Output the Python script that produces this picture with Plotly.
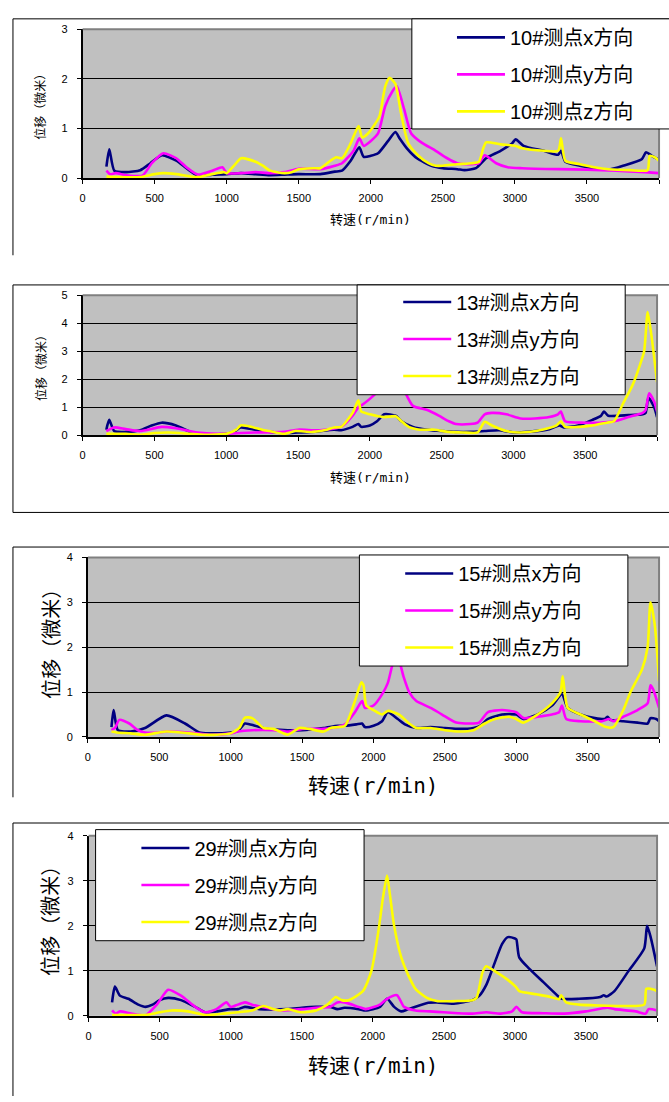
import plotly.graph_objects as go

W, H = 669, 1102

# ---------------- data: 10# ----------------
p10_x_rpm = [165,185,220,300,400,470,550,650,720,800,900,1000,1100,1200,1300,1400,1500,1650,1750,1800,1860,1920,1950,2000,2050,2120,2170,2200,2250,2320,2420,2500,2600,2650,2730,2800,2900,2980,3005,3060,3200,3300,3320,3350,3450,3600,3650,3750,3880,3910,3950,4000]
p10_x_val = [0.23,0.58,0.15,0.12,0.16,0.3,0.46,0.35,0.2,0.05,0.07,0.08,0.1,0.08,0.06,0.07,0.08,0.08,0.13,0.15,0.35,0.62,0.43,0.45,0.5,0.75,0.93,0.8,0.6,0.4,0.25,0.2,0.18,0.16,0.2,0.4,0.55,0.7,0.78,0.65,0.55,0.47,0.55,0.33,0.25,0.18,0.17,0.25,0.38,0.52,0.45,0.37]
p10_y_rpm = [165,190,230,300,415,480,560,650,720,800,900,970,1000,1100,1200,1300,1400,1500,1650,1750,1800,1880,1920,1950,2000,2050,2100,2150,2180,2230,2280,2350,2450,2530,2600,2700,2750,2790,2870,2950,3050,3300,3500,3700,3900,4000]
p10_y_val = [0.15,0.08,0.1,0.06,0.05,0.3,0.5,0.4,0.22,0.07,0.15,0.22,0.1,0.1,0.12,0.1,0.12,0.19,0.18,0.25,0.3,0.55,0.8,0.65,0.75,0.9,1.45,1.75,1.85,1.4,0.9,0.72,0.55,0.4,0.3,0.28,0.3,0.46,0.3,0.22,0.2,0.18,0.17,0.15,0.12,0.1]
p10_z_rpm = [165,250,400,500,560,650,800,900,980,1000,1050,1100,1200,1250,1300,1400,1450,1500,1600,1650,1720,1760,1800,1860,1915,1940,1980,2020,2060,2100,2130,2170,2210,2260,2330,2400,2450,2500,2600,2700,2750,2780,2800,2900,3000,3050,3200,3300,3320,3350,3450,3550,3650,3800,3920,3935,3970,4000]
p10_z_val = [0.03,0.02,0.02,0.08,0.1,0.08,0.02,0.08,0.12,0.1,0.25,0.4,0.33,0.25,0.15,0.1,0.12,0.18,0.2,0.2,0.35,0.42,0.4,0.7,1.05,0.82,0.9,1.05,1.25,1.85,2.02,1.9,1.3,0.7,0.45,0.3,0.25,0.25,0.28,0.3,0.33,0.6,0.72,0.68,0.65,0.6,0.55,0.55,0.8,0.35,0.28,0.22,0.18,0.16,0.16,0.45,0.42,0.35]

# ---------------- data: 13# ----------------
p13_x_rpm = [165,185,220,300,400,480,550,650,750,800,1000,1060,1100,1200,1300,1400,1500,1600,1750,1800,1880,1920,1940,2000,2050,2100,2180,2220,2300,2400,2500,2600,2700,2800,2900,3000,3100,3250,3320,3350,3450,3550,3610,3630,3660,3800,3900,3920,3940,3980,4000]
p13_x_val = [0.2,0.55,0.15,0.12,0.18,0.35,0.45,0.35,0.12,0.05,0.05,0.15,0.28,0.2,0.12,0.08,0.1,0.12,0.2,0.18,0.3,0.4,0.3,0.35,0.5,0.75,0.7,0.5,0.3,0.2,0.15,0.12,0.12,0.15,0.18,0.1,0.12,0.22,0.35,0.28,0.35,0.55,0.7,0.85,0.7,0.72,0.75,0.8,1.35,1.0,0.65]
p13_y_rpm = [165,220,300,400,550,650,800,1000,1100,1200,1400,1500,1650,1800,1880,1920,1950,2000,2080,2170,2240,2300,2400,2480,2550,2600,2700,2750,2800,2850,2950,3050,3150,3250,3310,3330,3360,3500,3600,3700,3800,3900,3920,3945,3980,4000]
p13_y_val = [0.15,0.28,0.22,0.15,0.3,0.25,0.1,0.05,0.08,0.1,0.12,0.2,0.18,0.3,0.7,1.0,1.1,1.3,1.7,2.4,1.6,1.05,0.9,0.7,0.5,0.4,0.4,0.45,0.75,0.8,0.75,0.6,0.6,0.65,0.75,0.85,0.5,0.45,0.45,0.5,0.65,0.8,0.9,1.5,1.2,0.85]
p13_z_rpm = [165,300,400,500,600,750,850,1000,1070,1100,1150,1250,1300,1400,1480,1600,1700,1750,1800,1880,1920,1940,2000,2100,2180,2220,2270,2350,2450,2550,2650,2750,2800,2850,2950,3050,3200,3300,3330,3360,3450,3550,3650,3700,3760,3830,3880,3910,3935,3965,4000]
p13_z_val = [0.05,0.05,0.02,0.08,0.1,0.05,0.02,0.05,0.2,0.35,0.33,0.2,0.15,0.05,0.15,0.12,0.2,0.28,0.3,0.8,1.25,0.85,0.75,0.65,0.68,0.5,0.3,0.2,0.2,0.12,0.1,0.1,0.48,0.35,0.15,0.1,0.2,0.35,0.5,0.3,0.3,0.35,0.45,0.5,1.1,1.8,2.5,3.0,4.4,3.4,1.9]

# ---------------- data: 15# ----------------
p15_x_rpm = [165,180,210,300,400,550,680,780,850,1000,1050,1100,1170,1250,1400,1500,1650,1750,1800,1880,1920,1940,2000,2060,2100,2170,2220,2300,2400,2500,2600,2700,2750,2800,2900,3000,3050,3150,3250,3320,3360,3450,3550,3620,3640,3660,3750,3850,3920,3940,3980,4000]
p15_x_val = [0.22,0.6,0.15,0.12,0.2,0.48,0.3,0.1,0.08,0.1,0.13,0.3,0.25,0.18,0.15,0.15,0.2,0.25,0.25,0.28,0.3,0.22,0.25,0.35,0.55,0.4,0.28,0.2,0.22,0.2,0.18,0.2,0.25,0.4,0.5,0.5,0.4,0.5,0.7,0.95,0.65,0.5,0.42,0.4,0.45,0.38,0.35,0.32,0.3,0.42,0.4,0.35]
p15_y_rpm = [165,190,220,290,350,400,500,550,700,850,1000,1050,1150,1300,1400,1500,1650,1750,1800,1870,1920,1940,2000,2060,2100,2160,2210,2250,2300,2400,2480,2580,2700,2740,2800,2900,3000,3050,3150,3250,3300,3320,3350,3450,3600,3650,3680,3750,3850,3920,3940,3960,4000]
p15_y_val = [0.15,0.2,0.38,0.3,0.15,0.1,0.1,0.12,0.1,0.05,0.08,0.12,0.15,0.15,0.12,0.18,0.18,0.22,0.28,0.55,0.8,0.65,0.7,0.95,1.2,1.9,1.35,1.0,0.8,0.65,0.5,0.32,0.3,0.32,0.55,0.6,0.55,0.42,0.45,0.5,0.55,0.7,0.4,0.35,0.35,0.4,0.35,0.45,0.6,0.75,1.15,1.05,0.65]
p15_z_rpm = [165,200,300,400,500,550,650,800,900,1000,1060,1100,1150,1230,1300,1400,1480,1550,1650,1700,1800,1870,1915,1930,1950,2000,2060,2100,2180,2250,2300,2400,2500,2600,2700,2780,2850,2950,3000,3050,3150,3250,3310,3325,3360,3450,3550,3630,3680,3750,3800,3880,3920,3940,3970,4000]
p15_z_val = [0.12,0.1,0.08,0.05,0.1,0.12,0.1,0.05,0.05,0.08,0.2,0.43,0.42,0.2,0.18,0.05,0.2,0.18,0.12,0.2,0.25,0.8,1.22,1.15,0.7,0.6,0.5,0.58,0.5,0.3,0.2,0.2,0.15,0.12,0.15,0.3,0.4,0.45,0.4,0.32,0.5,0.75,1.0,1.35,0.65,0.5,0.35,0.22,0.22,0.6,1.0,1.5,2.0,3.0,2.5,1.25]

# ---------------- data: 29# ----------------
p29_x_rpm = [165,185,220,280,350,400,450,500,560,650,750,820,900,1000,1050,1100,1200,1400,1500,1600,1700,1750,1800,1900,1950,2050,2100,2150,2200,2250,2390,2450,2570,2700,2750,2800,2860,2910,2950,3000,3010,3030,3100,3200,3300,3330,3450,3600,3625,3645,3700,3800,3910,3930,3955,4000]
p29_x_val = [0.3,0.65,0.45,0.38,0.25,0.2,0.25,0.35,0.4,0.35,0.2,0.08,0.1,0.15,0.15,0.2,0.15,0.15,0.18,0.2,0.2,0.15,0.18,0.15,0.12,0.2,0.38,0.2,0.1,0.15,0.29,0.3,0.27,0.35,0.45,0.7,1.2,1.6,1.75,1.72,1.7,1.3,1.05,0.75,0.45,0.38,0.38,0.42,0.46,0.43,0.55,1.0,1.5,2.0,1.75,1.1]
p29_y_rpm = [165,190,220,300,400,480,560,650,750,820,900,970,1000,1050,1100,1150,1250,1350,1500,1600,1700,1750,1800,1900,1950,2050,2100,2170,2220,2300,2400,2500,2600,2700,2800,2900,2980,3010,3050,3200,3350,3500,3650,3700,3850,3920,3940,4000]
p29_y_val = [0.12,0.05,0.1,0.05,0.01,0.25,0.58,0.45,0.2,0.08,0.15,0.3,0.2,0.25,0.3,0.25,0.18,0.12,0.15,0.18,0.2,0.3,0.3,0.2,0.15,0.25,0.38,0.46,0.2,0.12,0.1,0.08,0.06,0.05,0.08,0.05,0.1,0.2,0.08,0.06,0.05,0.1,0.18,0.15,0.1,0.05,0.15,0.12]
p29_z_rpm = [165,300,400,500,580,700,820,950,1050,1150,1230,1300,1350,1400,1500,1600,1680,1740,1780,1830,1930,1990,2040,2070,2100,2120,2150,2200,2250,2300,2380,2450,2600,2700,2730,2770,2795,2880,2950,3005,3030,3150,3250,3310,3325,3360,3450,3600,3750,3910,3925,3980,4000]
p29_z_val = [0.02,0.02,0.02,0.08,0.12,0.1,0.02,0.05,0.08,0.12,0.22,0.15,0.12,0.15,0.08,0.12,0.25,0.42,0.35,0.35,0.55,1.0,1.9,2.6,3.12,2.7,2.0,1.3,0.9,0.6,0.4,0.33,0.33,0.35,0.4,0.95,1.1,0.95,0.8,0.65,0.55,0.48,0.42,0.37,0.46,0.3,0.25,0.23,0.22,0.25,0.6,0.58,0.55]

x_ticks = [0, 500, 1000, 1500, 2000, 2500, 3000, 3500, 4000]

# ---------------- layout geometry (pixels) ----------------
ITEMW = 48
panels = [
    dict(tag="10", data=[(p10_x_rpm, p10_x_val), (p10_y_rpm, p10_y_val), (p10_z_rpm, p10_z_val)],
         xd=(80, 659), yd=(23.5, 174), ymax=3, frame=(10, 13, None, 252),
         box=(410.7, 13, 675, 124.3), leg=(509, 12), ysz=12, xsz=13, ytitle=(37, 99), xtitle=(369, 215)),
    dict(tag="13", data=[(p13_x_rpm, p13_x_val), (p13_y_rpm, p13_y_val), (p13_z_rpm, p13_z_val)],
         xd=(80, 657), yd=(292.5, 434), ymax=5, frame=(10, 282, 512, 512),
         box=(355.7, 282, 625, 393), leg=(455, 279.5), ysz=12, xsz=13, ytitle=(37, 363), xtitle=(369, 476)),
    dict(tag="15", data=[(p15_x_rpm, p15_x_val), (p15_y_rpm, p15_y_val), (p15_z_rpm, p15_z_val)],
         xd=(85.3, 659), yd=(557.5, 739), ymax=4, frame=(10, 547, None, 800),
         box=(358, 555, 627.7, 667.3), leg=(457, 554), ysz=20, xsz=21, ytitle=(47, 640), xtitle=(372, 787)),
    dict(tag="29", data=[(p29_x_rpm, p29_x_val), (p29_y_rpm, p29_y_val), (p29_z_rpm, p29_z_val)],
         xd=(86, 657), yd=(839, 1021), ymax=4, frame=(10, 826, None, 1105),
         box=(93, 832.7, 362.7, 945), leg=(192, 831.5), ysz=20, xsz=21, ytitle=(47, 920), xtitle=(372, 1070)),
]

colors = ["#000080", "#FF00FF", "#FFFF00"]
dirs = ["x", "y", "z"]
LAT = "Liberation Sans, Arial, Noto Sans CJK SC, sans-serif"
CJK = "Noto Sans CJK SC, sans-serif"

def fx(p):
    return p / W

def fy(p):
    return 1 - p / H

fig = go.Figure()
shapes = []
annotations = []
layout = dict(width=W, height=H, margin=dict(l=0, r=0, t=0, b=0),
              paper_bgcolor="white", plot_bgcolor="#C0C0C0", showlegend=True)

for i, p in enumerate(panels, start=1):
    sfx = "" if i == 1 else str(i)
    legname = "legend" + sfx
    for j, (xs, ys) in enumerate(p["data"]):
        fig.add_trace(go.Scatter(
            x=xs, y=ys, mode="lines",
            line=dict(color=colors[j], width=2.6, shape="spline", smoothing=0.6),
            name=f"{p['tag']}#测点{dirs[j]}方向",
            legendgroup=f"g{i}{j}", legend=legname,
            xaxis="x" + sfx, yaxis="y" + sfx, hoverinfo="skip",
        ))
    x0, x1 = p["xd"]
    ytop, ybot = p["yd"]
    layout["xaxis" + sfx] = dict(
        domain=[fx(x0), fx(x1)], range=[0, 4000], anchor="y" + sfx,
        tickmode="array", tickvals=x_ticks, ticktext=[str(v) for v in x_ticks],
        ticks="outside", ticklen=4, tickcolor="black", tickwidth=1,
        showline=True, linecolor="black", linewidth=1.5,
        showgrid=False, zeroline=False,
        tickfont=dict(family=LAT, size=11, color="black"), ticklabelstandoff=5,
    )
    layout["yaxis" + sfx] = dict(
        domain=[fy(ybot), fy(ytop)], range=[0, p["ymax"]], anchor="x" + sfx,
        tickmode="linear", tick0=0, dtick=1,
        ticks="outside", ticklen=4, tickcolor="black", tickwidth=1,
        showline=True, linecolor="black", linewidth=1.5,
        showgrid=True, gridcolor="black", gridwidth=1, zeroline=False,
        tickfont=dict(family=LAT, size=11, color="black"), ticklabelstandoff=7,
    )
    # gray top/right plot border
    shapes.append(dict(type="path", xref="paper", yref="paper",
                       path=f"M {fx(x0)},{fy(ytop)} L {fx(x1)},{fy(ytop)} L {fx(x1)},{fy(ybot)}",
                       line=dict(color="#808080", width=2), layer="above"))
    # outer chart frame
    fxl, fyt, fyb, fleft = p["frame"]
    shapes.append(dict(type="line", xref="paper", yref="paper",
                       x0=fx(fxl), x1=fx(W), y0=fy(fyt), y1=fy(fyt),
                       line=dict(color="black", width=1)))
    shapes.append(dict(type="line", xref="paper", yref="paper",
                       x0=fx(fxl), x1=fx(fxl), y0=fy(fyt), y1=fy(min(fleft, H)),
                       line=dict(color="black", width=1)))
    if fyb is not None:
        shapes.append(dict(type="line", xref="paper", yref="paper",
                           x0=fx(fxl), x1=fx(W), y0=fy(fyb), y1=fy(fyb),
                           line=dict(color="black", width=1)))
    # legend box
    bx0, by0, bx1, by1 = p["box"]
    shapes.append(dict(type="rect", xref="paper", yref="paper",
                       x0=fx(bx0), x1=fx(min(bx1, W + 1)), y0=fy(by1), y1=fy(by0),
                       fillcolor="white", line=dict(color="black", width=1), layer="above"))
    tstart, ly = p["leg"]
    layout[legname] = dict(
        x=fx(tstart - ITEMW - 10), y=fy(ly), xanchor="left", yanchor="top",
        bgcolor="rgba(0,0,0,0)", borderwidth=0, tracegroupgap=8, itemwidth=ITEMW,
        font=dict(family=LAT, size=20, color="black"),
        itemclick=False, itemdoubleclick=False,
    )
    # axis titles
    tx, ty = p["ytitle"]
    annotations.append(dict(xref="paper", yref="paper", x=fx(tx), y=fy(ty),
                            text="位移（微米）", textangle=-90, showarrow=False,
                            font=dict(family=CJK, size=p["ysz"], color="black"),
                            xanchor="center", yanchor="middle"))
    tx, ty = p["xtitle"]
    annotations.append(dict(xref="paper", yref="paper", x=fx(tx), y=fy(ty),
                            text="转速<span style='font-family:DejaVu Sans Mono'>(r/min)</span>",
                            showarrow=False,
                            font=dict(family=CJK, size=p["xsz"], color="black"),
                            xanchor="center", yanchor="middle"))

layout["shapes"] = shapes
layout["annotations"] = annotations
fig.update_layout(**layout)

post = "document.body.style.margin='0';document.body.style.padding='0';"
fig.write_html("out.html", config={"displayModeBar": False}, post_script=post)
